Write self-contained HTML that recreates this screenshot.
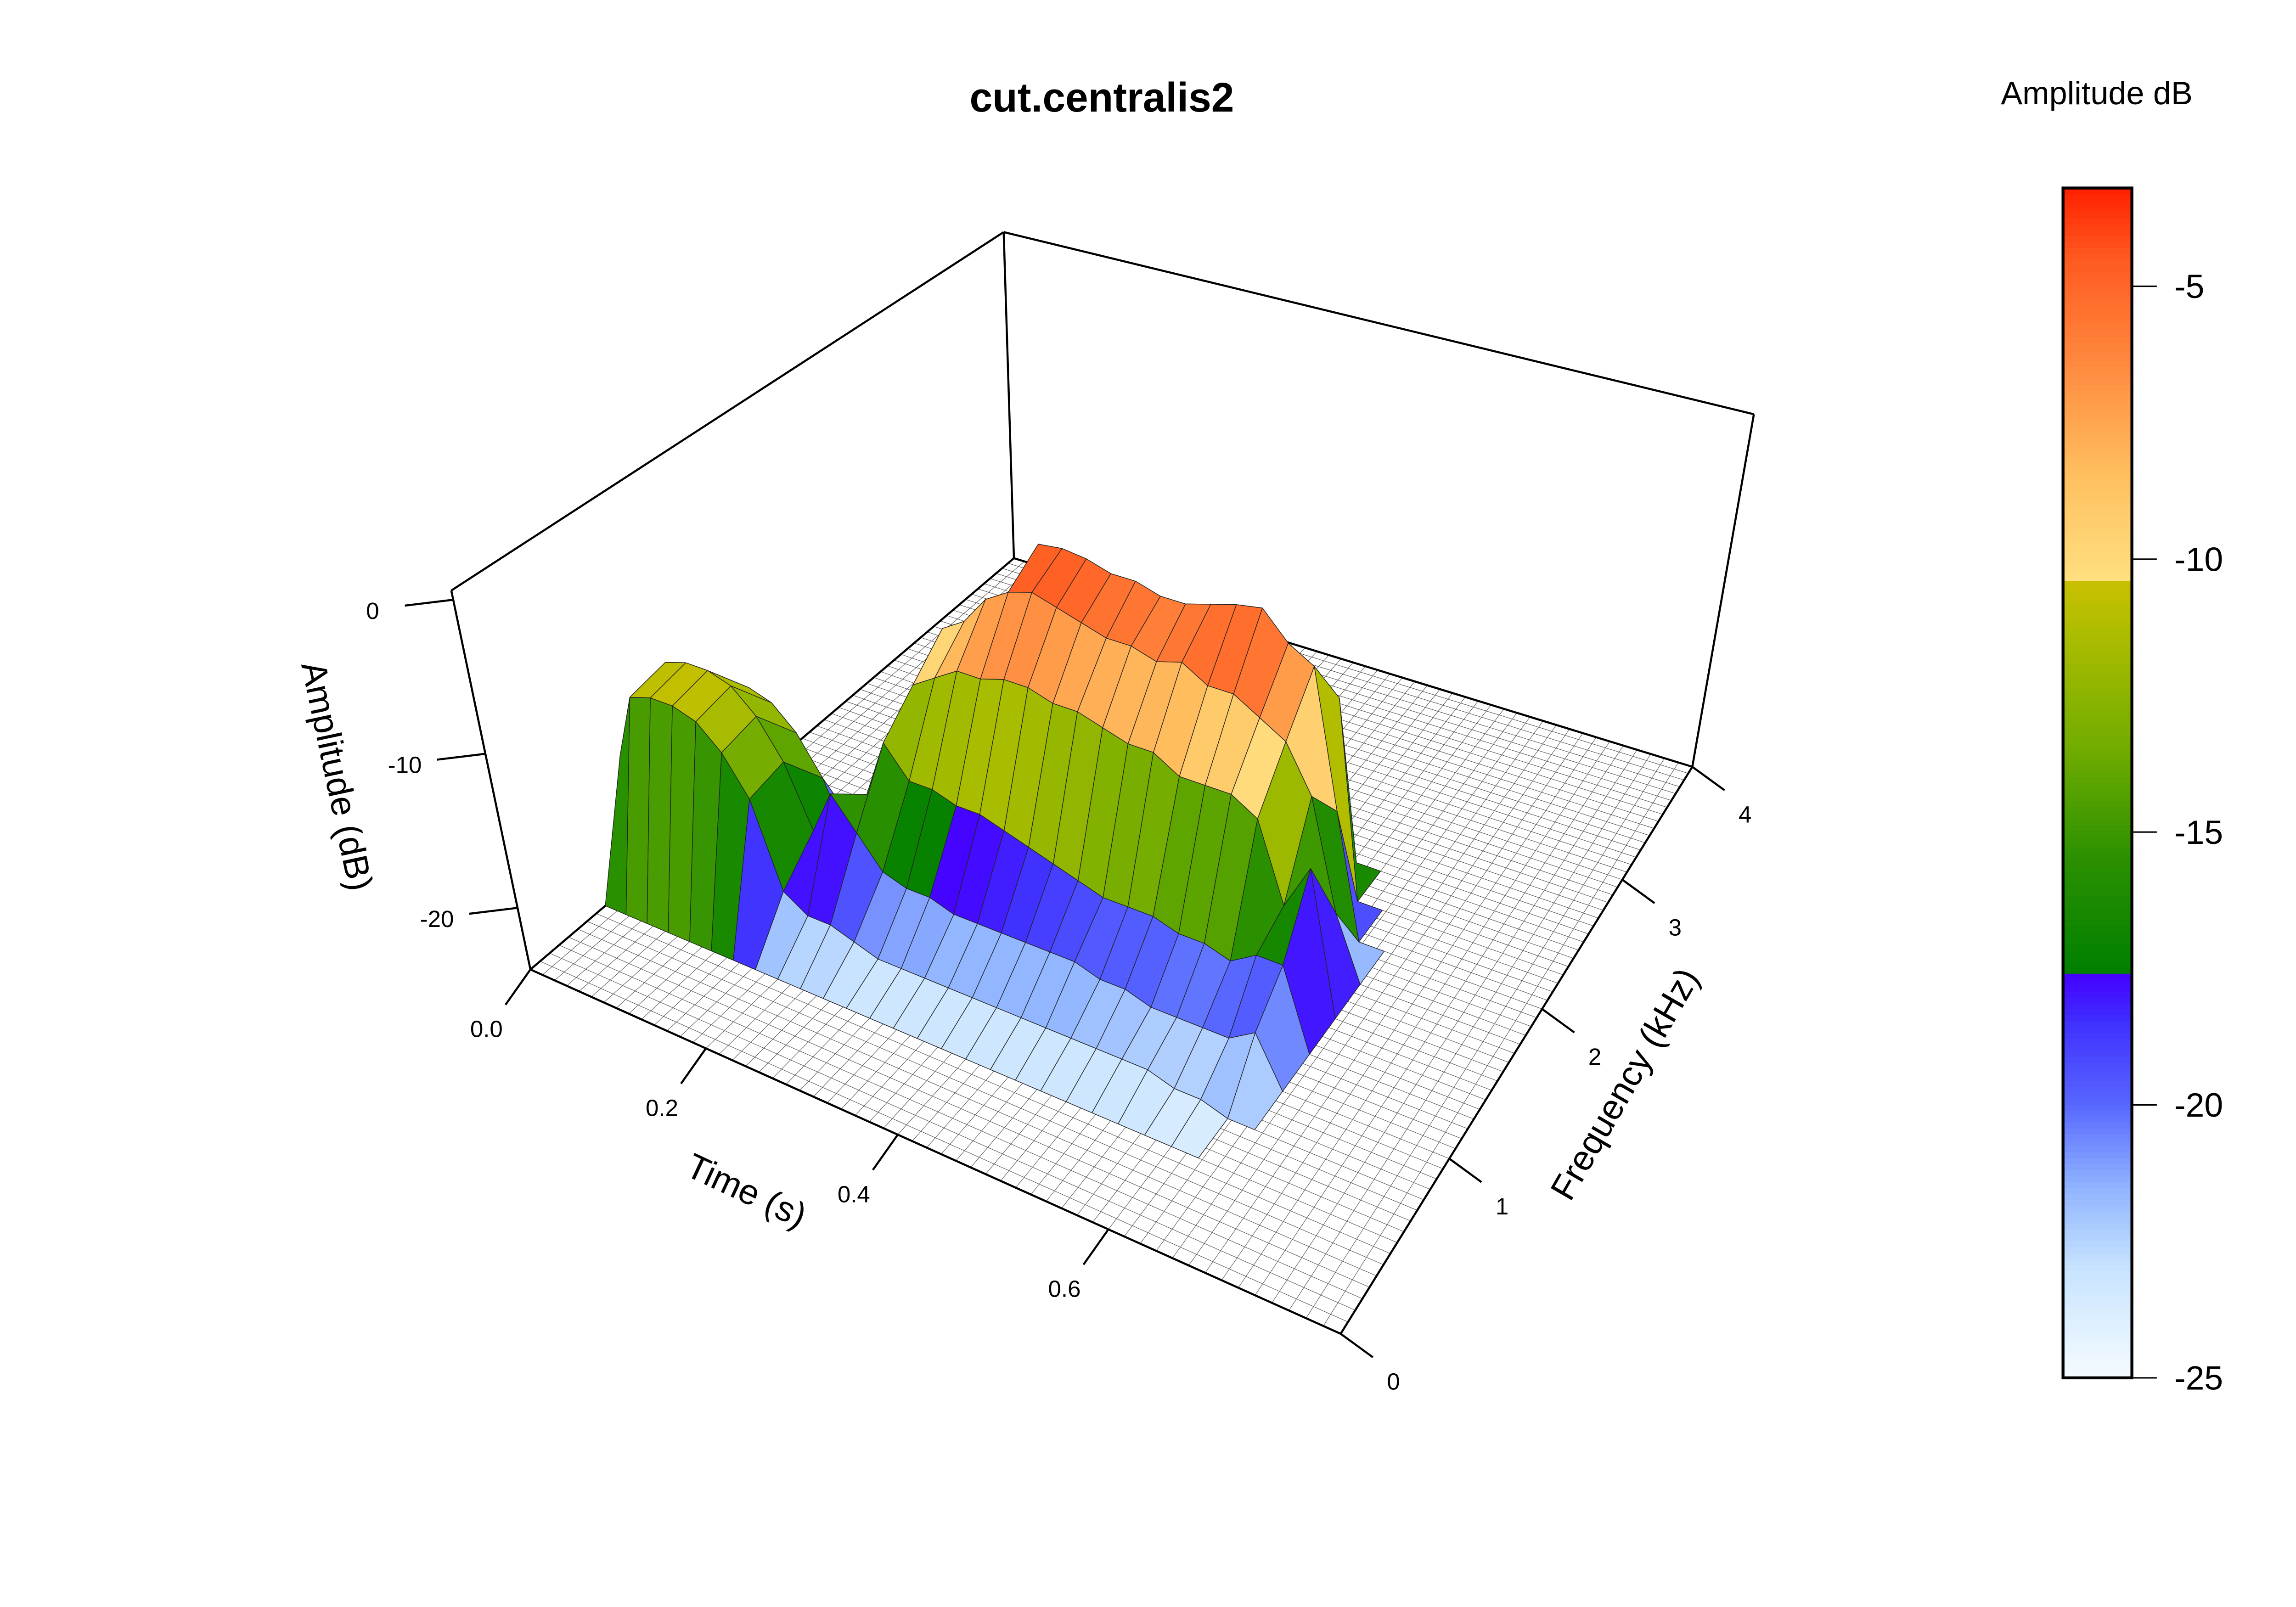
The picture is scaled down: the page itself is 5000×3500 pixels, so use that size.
<!DOCTYPE html>
<html><head><meta charset="utf-8"><style>
html,body{margin:0;padding:0;background:#fff;}
svg{display:block;}
text{font-family:"Liberation Sans",sans-serif;fill:#000;}
</style></head><body>
<svg id="chart" xmlns="http://www.w3.org/2000/svg" width="5000" height="3500" viewBox="0 0 1567 1094" preserveAspectRatio="none">
<rect x="0" y="0" width="1567" height="1094" fill="#fff"/>
<text x="752" y="76" font-size="28" font-weight="bold" text-anchor="middle">cut.centralis2</text>
<text x="1431" y="71" font-size="22" text-anchor="middle">Amplitude dB</text>
<g id="floor"></g>
<g id="box"></g>
<g id="surf"></g>
<g id="axes"></g>
<g id="cbar"></g>
<text x="0" y="0" font-size="24" text-anchor="middle" transform="translate(506,818) rotate(25)">Time (s)</text>
<text x="0" y="0" font-size="24" text-anchor="middle" transform="translate(1116,742) rotate(-60)">Frequency (kHz)</text>
<text x="0" y="0" font-size="24" text-anchor="middle" transform="translate(222,530) rotate(78)">Amplitude (dB)</text>
</svg>
<script>
const times = [0,0.025,0.05,0.075,0.1,0.125,0.15,0.175,0.2,0.225,0.25,0.275,0.3,0.325,0.35,0.375,0.4,0.425,0.45,0.475,0.5,0.525,0.55,0.575,0.6,0.625,0.65,0.675,0.7,0.725,0.75,0.775,0.8];
const freqs = [0,0.25,0.5,0.75,1,1.25,1.5,1.75,2,2.25,2.5,2.75,3,3.25,3.5,3.75,4];
const F = -24;
const amp = [
[F,F,F,-16,-15,-20,F,F,F,F,F,F,F,F,F,F,F],
[F,F,F,-11.5,-11,-14,F,F,F,F,F,F,F,F,F,F,F],
[F,F,F,-11,-10.5,-13.5,F,F,F,F,F,F,F,F,F,F,F],
[F,F,F,-11,-10.5,-13.5,F,F,F,F,F,F,F,F,F,F,F],
[F,F,F,-11.5,-11,-14,F,F,F,F,F,F,F,F,F,F,F],
[F,F,F,-13,-12.5,-15.5,F,F,F,F,F,F,F,F,F,F,F],
[F,F,F,-15.5,-15,-18,F,F,F,F,F,F,F,F,F,F,F],
[F,F,F,-21,-19,-22,F,F,F,F,F,F,F,F,F,F,F],
[F,F,F,-22,-16,-18,-20,F,F,F,F,F,F,F,F,F,F],
[F,F,F,-22,-18,-14,-12,-10,F,F,F,F,F,F,F,F,F],
[F,F,F,-22.5,-20,-16,-11,-9,-12,F,F,F,F,F,F,F,F],
[F,F,F,-23,-20.5,-16,-10,-7,-9,F,F,F,F,F,F,F,F],
[F,F,F,-23,-20.5,-16.5,-10,-6,-4.5,-12,F,F,F,F,F,F,F],
[F,F,F,-23,-21,-16.5,-9.5,-5.5,-4.3,-10,F,F,F,F,F,F,F],
[F,F,F,-23,-21,-17,-9.5,-6,-4.5,-10,F,F,F,F,F,F,F],
[F,F,F,-23,-21,-17.5,-10,-6.5,-5,-11,F,F,F,F,F,F,F],
[F,F,F,-23,-21,-18,-10,-7,-5,-11,F,F,F,F,F,F,F],
[F,F,F,-23,-21,-18.5,-10.5,-7,-5.5,-11,F,F,F,F,F,F,F],
[F,F,F,-23,-21,-19,-11,-7.5,-5.5,-11,F,F,F,F,F,F,F],
[F,F,F,-23,-21.5,-19,-11,-7,-5,-10,F,F,F,F,F,F,F],
[F,F,F,-23,-21.5,-19,-12,-8,-4.5,-9,F,F,F,F,F,F,F],
[F,F,F,-23,-22,-19.5,-12,-8,-4.2,-9,F,F,F,F,F,F,F],
[F,F,F,-23,-22,-19.5,-12,-9,-6,-10,F,F,F,F,F,F,F],
[F,F,F,-23.5,-22,-20,-13,-10,-7,-11,F,F,F,F,F,F,F],
[F,F,F,-23.5,-22,-19,-18,-13,-16,F,F,F,F,F,F,F,F],
[F,F,F,F,-21,-19,-15,-20,F,F,F,F,F,F,F,F,F],
[F,F,F,F,F,F,F,F,F,F,F,F,F,F,F,F,F],
[F,F,F,F,F,F,F,F,F,F,F,F,F,F,F,F,F],
[F,F,F,F,F,F,F,F,F,F,F,F,F,F,F,F,F],
[F,F,F,F,F,F,F,F,F,F,F,F,F,F,F,F,F],
[F,F,F,F,F,F,F,F,F,F,F,F,F,F,F,F,F],
[F,F,F,F,F,F,F,F,F,F,F,F,F,F,F,F,F],
[F,F,F,F,F,F,F,F,F,F,F,F,F,F,F,F,F]
];
const timeTicks = [0.0,0.2,0.4,0.6];
const timeTickLabels = ["0.0","0.2","0.4","0.6"];
const freqTicks = [0,1,2,3,4];
const zTicks = [0,-10,-20];
const cbarTicks = [-5,-10,-15,-20,-25];

const NS = "http://www.w3.org/2000/svg";
const T0 = 0, T1 = 0.8, FR0 = 0, FR1 = 4, ZMIN = -24, ZMAX = 0.6;
function homog(q){
  const [x0,y0]=q[0],[x1,y1]=q[1],[x2,y2]=q[2],[x3,y3]=q[3];
  const sx=x0-x1+x2-x3, sy=y0-y1+y2-y3;
  const dx1=x1-x2, dx2=x3-x2, dy1=y1-y2, dy2=y3-y2;
  const det=dx1*dy2-dx2*dy1;
  const g=(sx*dy2-dx2*sy)/det, h=(dx1*sy-sx*dy1)/det;
  const a=x1-x0+g*x1, b=x3-x0+h*x3, c=x0, d=y1-y0+g*y1, e=y3-y0+h*y3, f=y0;
  return (u,v)=>{const w=g*u+h*v+1;return [(a*u+b*v+c)/w,(d*u+e*v+f)/w];};
}
const floorH = homog([[362,660],[915,908],[1155,522],[692,380]]);
const topH = homog([[308,402],[910,618],[1197,282],[685,158]]);
function proj(t,f,z){
  const u=(t-T0)/(T1-T0), v=(f-FR0)/(FR1-FR0), w=(z-ZMIN)/(ZMAX-ZMIN);
  const p=floorH(u,v), q=topH(u,v);
  return [p[0]+(q[0]-p[0])*w, p[1]+(q[1]-p[1])*w];
}
const stops=[[-25,[245,251,255]],[-23,[200,228,255]],[-21.5,[144,180,255]],[-20,[88,104,255]],[-18.5,[64,48,255]],[-17.6,[68,0,255]],
[-17.59,[0,128,0]],[-15.5,[42,144,0]],[-13.5,[112,172,0]],[-11.5,[168,188,0]],[-10.41,[200,192,0]],
[-10.4,[255,224,128]],[-8.5,[255,192,96]],[-6.5,[255,140,64]],[-4.5,[255,90,32]],[-3.2,[255,32,0]]];
function color(z){
  if(z<=stops[0][0]) return "rgb("+stops[0][1].join(",")+")";
  for(let k=1;k<stops.length;k++){
    if(z<=stops[k][0]){const [za,ca]=stops[k-1],[zb,cb]=stops[k];const r=(z-za)/(zb-za);
      return "rgb("+ca.map((c,i)=>Math.round(c+(cb[i]-c)*r)).join(",")+")";}
  }
  return "rgb("+stops[stops.length-1][1].join(",")+")";
}
function pts(a){return a.map(p=>p[0].toFixed(2)+","+p[1].toFixed(2)).join(" ");}
function mk(tag,attrs,parent){const e=document.createElementNS(NS,tag);for(const k in attrs)e.setAttribute(k,attrs[k]);parent.appendChild(e);return e;}

const floorG=document.getElementById("floor");
const fl=mk("polygon",{points:pts([proj(T0,FR0,ZMIN),proj(T1,FR0,ZMIN),proj(T1,FR1,ZMIN),proj(T0,FR1,ZMIN)]),fill:"#fff",stroke:"none"},floorG);


const NT=56, NF=64;
for(let k=0;k<=NT;k++){const t=T0+(T1-T0)*k/NT;const a=proj(t,FR0,ZMIN),b=proj(t,FR1,ZMIN);
  const l=mk("line",{x1:a[0],y1:a[1],x2:b[0],y2:b[1],stroke:"#555","stroke-width":0.35},floorG);
  
  }
for(let k=0;k<=NF;k++){const f=FR0+(FR1-FR0)*k/NF;const a=proj(T0,f,ZMIN),b=proj(T1,f,ZMIN);
  const l=mk("line",{x1:a[0],y1:a[1],x2:b[0],y2:b[1],stroke:"#555","stroke-width":0.35},floorG);
  
  }

const box=document.getElementById("box");
const edges=[[[T0,FR0,ZMIN],[T0,FR0,ZMAX]],[[T0,FR0,ZMAX],[T0,FR1,ZMAX]],[[T0,FR1,ZMAX],[T1,FR1,ZMAX]],[[T0,FR1,ZMAX],[T0,FR1,ZMIN]],[[T1,FR1,ZMAX],[T1,FR1,ZMIN]],
[[T0,FR0,ZMIN],[T1,FR0,ZMIN]],[[T1,FR0,ZMIN],[T1,FR1,ZMIN]],[[T0,FR0,ZMIN],[T0,FR1,ZMIN]],[[T0,FR1,ZMIN],[T1,FR1,ZMIN]]];
for(const [a3,b3] of edges){const a=proj(...a3),b=proj(...b3);
  const l=mk("line",{x1:a[0],y1:a[1],x2:b[0],y2:b[1],stroke:"#000","stroke-width":1.4},box);
  
  }

const surf=document.getElementById("surf");
const facets=[];
for(let i=0;i<times.length-1;i++)for(let j=0;j<freqs.length-1;j++){
  const zs=[amp[i][j],amp[i+1][j],amp[i+1][j+1],amp[i][j+1]];
  if(zs.every(z=>z<=F)) continue;
  const u=(i+0.5)/(times.length-1), v=(j+0.5)/(freqs.length-1);
  facets.push({i,j,zs,d:(1-u)+v});
}
facets.sort((a,b)=>b.d-a.d);
for(const fc of facets){
  const {i,j,zs}=fc;
  const P=[proj(times[i],freqs[j],zs[0]),proj(times[i+1],freqs[j],zs[1]),proj(times[i+1],freqs[j+1],zs[2]),proj(times[i],freqs[j+1],zs[3])];
  const m=(zs[0]+zs[1]+zs[2]+zs[3])/4, mx=Math.max(...zs);
  const p=mk("polygon",{points:pts(P),fill:color(0.45*mx+0.55*m),stroke:"#222","stroke-width":0.45,"stroke-linejoin":"round"},surf);
  
  
}

const axes=document.getElementById("axes");
timeTicks.forEach((t,k)=>{const a=proj(t,FR0,ZMIN);
  const l=mk("line",{x1:a[0],y1:a[1],x2:a[0]-17,y2:a[1]+24,stroke:"#000","stroke-width":1.4},axes);
  
  
  const tx=mk("text",{x:a[0]-30,y:a[1]+46,"font-size":16,"text-anchor":"middle"},axes);tx.textContent=timeTickLabels[k];
  
  });
freqTicks.forEach(f=>{const a=proj(T1,f,ZMIN);
  const l=mk("line",{x1:a[0],y1:a[1],x2:a[0]+22,y2:a[1]+16,stroke:"#000","stroke-width":1.4},axes);
  
  
  const tx=mk("text",{x:a[0]+36,y:a[1]+38,"font-size":16,"text-anchor":"middle"},axes);tx.textContent=String(f);
  
  });
zTicks.forEach(z=>{const a=proj(T0,FR0,z);
  const l=mk("line",{x1:a[0],y1:a[1],x2:a[0]-33,y2:a[1]+4,stroke:"#000","stroke-width":1.4},axes);
  
  
  const tx=mk("text",{x:a[0]-55,y:a[1]+13,"font-size":16,"text-anchor":"middle"},axes);tx.textContent=String(z);
  
  });

const cb=document.getElementById("cbar");
const CB_X=1408, CB_W=47, CB_TOP=128, CB_BOT=938, CB_MIN=-25, CB_MAX=-3.2;
const cy=z=>CB_BOT-(z-CB_MIN)/(CB_MAX-CB_MIN)*(CB_BOT-CB_TOP);
const NB=200;
for(let k=0;k<NB;k++){const z0=CB_MIN+(CB_MAX-CB_MIN)*k/NB, z1=CB_MIN+(CB_MAX-CB_MIN)*(k+1)/NB;
  const r=mk("rect",{x:CB_X,y:cy(z1)-0.3,width:CB_W,height:cy(z0)-cy(z1)+0.6,fill:color((z0+z1)/2)},cb);
  
  }
const fr=mk("rect",{x:CB_X,y:CB_TOP,width:CB_W,height:CB_BOT-CB_TOP,fill:"none",stroke:"#000","stroke-width":2},cb);


cbarTicks.forEach(z=>{const y=cy(z);
  const l=mk("line",{x1:CB_X+CB_W,y1:y,x2:CB_X+CB_W+17,y2:y,stroke:"#000","stroke-width":1},cb);
  
  
  const tx=mk("text",{x:CB_X+CB_W+29,y:y+8,"font-size":23},cb);tx.textContent=String(z);
  
  });
</script>
</body></html>
